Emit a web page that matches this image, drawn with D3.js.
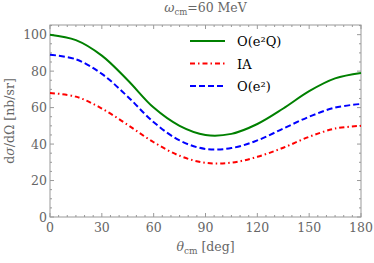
<!DOCTYPE html>
<html>
<head>
<meta charset="utf-8">
<script src="https://cdn.jsdelivr.net/npm/d3@7"></script>
<style>
  body { margin: 0; background: #fff; }
  text { font-family: "DejaVu Serif", serif; fill: #666; }
</style>
</head>
<body>
<div id="chart"></div>
<script>
// scattering angle grid (deg) and cross sections (nb/sr)
const angles = [0, 15, 30, 45, 60, 75, 90, 105, 120, 135, 150, 165, 180];
const full_e2Q = [100, 97, 88.5, 75, 60, 50, 45, 45.6, 51, 59.5, 69, 76, 79];
const ia = [68, 66, 59.5, 50.5, 41, 33.6, 29.7, 29.8, 33, 38, 44, 48.5, 50];
const order_e2 = [89, 86.5, 78.5, 66, 52, 42, 37.3, 37.8, 42, 48.5, 55, 60, 62];

const xTicks = [0, 30, 60, 90, 120, 150, 180];
const yTicks = [0, 20, 40, 60, 80, 100];

const width = 374, height = 263;
const margin = {top: 25, right: 13, bottom: 46, left: 50};
const plot_w = width - margin.left - margin.right;
const plot_h = height - margin.top - margin.bottom;

let svg = d3.select("#chart")
    .append("svg")
    .attr("width", width)
    .attr("height", height);

let g = svg.append("g")
    .attr("transform", `translate(${margin.left}, ${margin.top})`);

let x = d3.scaleLinear().domain([0, 180]).range([0, plot_w]);
let y = d3.scaleLinear().domain([0, 105.3]).range([plot_h, 0]);

// frame
g.append("rect")
    .attr("width", plot_w)
    .attr("height", plot_h)
    .attr("fill", "none")
    .attr("stroke", "#999")
    .attr("stroke-width", 1);

// ticks on all four sides, pointing inward
const xMinor = d3.range(0, 181, 5);
const yMinor = d3.range(0, 106, 5);
function drawTicks() {
    let t = g.append("g").attr("stroke", "#999").attr("stroke-width", 1);
    for (const v of xMinor) {
        let len = xTicks.includes(v) ? 4 : 2;
        t.append("line").attr("x1", x(v)).attr("x2", x(v)).attr("y1", plot_h).attr("y2", plot_h - len);
        t.append("line").attr("x1", x(v)).attr("x2", x(v)).attr("y1", 0).attr("y2", len);
    }
    for (const v of yMinor) {
        let len = yTicks.includes(v) ? 4 : 2;
        t.append("line").attr("y1", y(v)).attr("y2", y(v)).attr("x1", 0).attr("x2", len);
        t.append("line").attr("y1", y(v)).attr("y2", y(v)).attr("x1", plot_w).attr("x2", plot_w - len);
    }
}
drawTicks();

// tick labels
g.selectAll(".xlab").data(xTicks).enter()
    .append("text")
    .attr("x", d => x(d))
    .attr("y", plot_h + 15)
    .style("text-anchor", "middle")
    .style("font-size", "12.5px")
    .text(d => d);

g.selectAll(".ylab").data(yTicks).enter()
    .append("text")
    .attr("x", -3)
    .attr("y", d => y(d) + 4.5)
    .style("text-anchor", "end")
    .style("font-size", "12.5px")
    .text(d => d);

// curves
const series = [
    {name: "O(e²Q)", values: full_e2Q, color: "#008000", dash: null},
    {name: "IA", values: ia, color: "#ff0000", dash: "5,3,1.5,3"},
    {name: "O(e²)", values: order_e2, color: "#0000ff", dash: "6,3"}
];

let line = d3.line()
    .x((d, i) => x(angles[i]))
    .y(d => y(d))
    .curve(d3.curveCatmullRom.alpha(0.5));

let curves = g.append("g");
for (const s of series) {
    curves.append("path")
        .datum(s.values)
        .attr("d", line)
        .attr("fill", "none")
        .attr("stroke", s.color)
        .attr("stroke-width", 2)
        .attr("stroke-dasharray", s.dash);
}

// legend
let legend = g.append("g").attr("transform", "translate(140, 16)");
series.forEach((s, i) => {
    let row = legend.append("g").attr("transform", `translate(0, ${i * 22.5})`);
    row.append("line")
        .attr("x1", 0).attr("x2", 35)
        .attr("stroke", s.color)
        .attr("stroke-width", 2)
        .attr("stroke-dasharray", s.dash);
    row.append("text")
        .attr("x", 47)
        .attr("y", 5)
        .style("font-size", "13px")
        .style("fill", "#000")
        .text(s.name);
});

// title
let title = svg.append("text")
    .attr("x", margin.left + plot_w / 2)
    .attr("y", 12)
    .style("text-anchor", "middle")
    .style("font-size", "12.5px");
title.append("tspan").style("font-style", "italic").text("ω");
title.append("tspan").attr("dy", 3).style("font-size", "8.5px").text("cm");
title.append("tspan").attr("dy", -3).text("=60 MeV");

// x-axis label
let xl = svg.append("text")
    .attr("x", margin.left + plot_w / 2)
    .attr("y", 251)
    .style("text-anchor", "middle")
    .style("font-size", "12.5px");
xl.append("tspan").style("font-style", "italic").text("θ");
xl.append("tspan").attr("dy", 3).style("font-size", "9px").text("cm");
xl.append("tspan").attr("dy", -3).text(" [deg]");

// y-axis label
let yl = svg.append("text")
    .attr("transform", `translate(14, ${margin.top + plot_h / 2}) rotate(-90)`)
    .style("text-anchor", "middle")
    .style("font-size", "12.5px");
yl.append("tspan").text("d");
yl.append("tspan").style("font-style", "italic").text("σ");
yl.append("tspan").text("/dΩ [nb/sr]");
</script>
</body>
</html>
